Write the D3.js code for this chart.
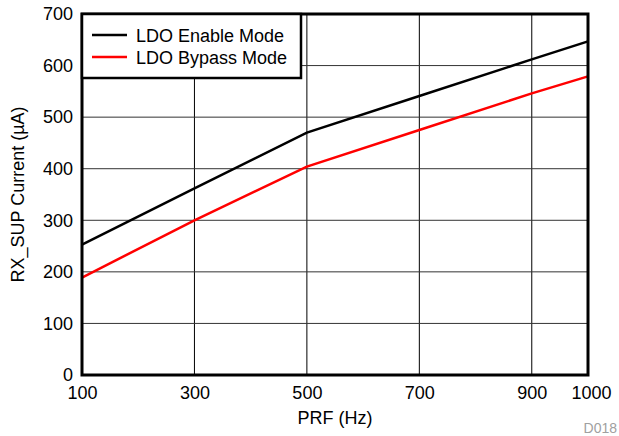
<!DOCTYPE html>
<html>
<head>
<meta charset="utf-8">
<script src="https://cdn.jsdelivr.net/npm/d3@7"></script>
<style>
  body { margin: 0; background: #fff; }
  text { font-family: "Liberation Sans", Arial, sans-serif; }
</style>
</head>
<body>
<div id="chart"></div>
<script>
const prf = [100, 300, 500, 700, 900, 1000];
const enableMode = [253, 362, 470, 541, 612, 647];
const bypassMode = [189, 300, 404, 475, 546, 579];
const xTicks = [100, 300, 500, 700, 900, 1000];
const yTicks = [0, 100, 200, 300, 400, 500, 600, 700];
const seriesNames = ["LDO Enable Mode", "LDO Bypass Mode"];
const seriesColors = ["#000000", "#ff0000"];

const width = 619;
const height = 436;
const margin = { left: 82, right: 31, top: 14, bottom: 61 };
const innerW = width - margin.left - margin.right;
const innerH = height - margin.top - margin.bottom;
const fontSize = 18;

const svg = d3.select("#chart").append("svg")
  .attr("width", width)
  .attr("height", height);

const x = d3.scaleLinear().domain([100, 1000]).range([0, innerW]);
const y = d3.scaleLinear().domain([0, 700]).range([innerH, 0]);

const g = svg.append("g")
  .attr("transform", "translate(" + margin.left + "," + margin.top + ")");

// grid
g.append("g")
  .selectAll("line")
  .data(xTicks.slice(1, -1))
  .enter().append("line")
  .attr("x1", d => x(d)).attr("x2", d => x(d))
  .attr("y1", 0).attr("y2", innerH)
  .attr("stroke", "#000").attr("stroke-width", 1);

g.append("g")
  .selectAll("line")
  .data(yTicks.slice(1, -1))
  .enter().append("line")
  .attr("x1", 0).attr("x2", innerW)
  .attr("y1", d => y(d)).attr("y2", d => y(d))
  .attr("stroke", "#333").attr("stroke-width", 1);

// axes (labels only)
const xAxis = d3.axisBottom(x).tickValues(xTicks).tickFormat(d3.format("d"))
  .tickSize(0).tickPadding(11);
const yAxis = d3.axisLeft(y).tickValues(yTicks).tickFormat(d3.format("d"))
  .tickSize(0).tickPadding(9);

g.append("g")
  .attr("transform", "translate(0," + innerH + ")")
  .call(xAxis)
  .call(a => a.select(".domain").remove())
  .selectAll("text")
  .attr("font-size", fontSize).attr("fill", "#000")
  .attr("dx", d => d === 1000 ? 3 : 0)
  .style("font-family", "Liberation Sans, Arial, sans-serif");

g.append("g")
  .call(yAxis)
  .call(a => a.select(".domain").remove())
  .selectAll("text")
  .attr("font-size", fontSize).attr("fill", "#000")
  .style("font-family", "Liberation Sans, Arial, sans-serif");

// lines
const series = [enableMode, bypassMode];
const line = d3.line()
  .x((d, i) => x(prf[i]))
  .y(d => y(d));

series.forEach((s, k) => {
  g.append("path")
    .datum(s)
    .attr("fill", "none")
    .attr("stroke", seriesColors[k])
    .attr("stroke-width", 2.5)
    .attr("d", line);
});

// border
g.append("rect")
  .attr("x", 0).attr("y", 0)
  .attr("width", innerW).attr("height", innerH)
  .attr("fill", "none")
  .attr("stroke", "#000")
  .attr("stroke-width", 3);

// legend
const legend = g.append("g");
legend.append("rect")
  .attr("x", 0).attr("y", 0)
  .attr("width", 219).attr("height", 64)
  .attr("fill", "#fff")
  .attr("stroke", "#000")
  .attr("stroke-width", 2.5);

seriesNames.forEach((name, k) => {
  const ly = 21 + k * 22;
  legend.append("line")
    .attr("x1", 10).attr("x2", 45)
    .attr("y1", ly).attr("y2", ly)
    .attr("stroke", seriesColors[k])
    .attr("stroke-width", 2.5);
  legend.append("text")
    .attr("x", 54).attr("y", ly + 6.5)
    .attr("font-size", fontSize)
    .text(name);
});

// axis titles
svg.append("text")
  .attr("x", margin.left + innerW / 2)
  .attr("y", 424)
  .attr("text-anchor", "middle")
  .attr("font-size", fontSize)
  .text("PRF (Hz)");

svg.append("text")
  .attr("transform", "translate(24," + (margin.top + innerH / 2) + ") rotate(-90)")
  .attr("text-anchor", "middle")
  .attr("font-size", fontSize)
  .text("RX_SUP Current (µA)");

svg.append("text")
  .attr("x", 617)
  .attr("y", 433)
  .attr("text-anchor", "end")
  .attr("font-size", 14)
  .attr("fill", "#a0a0a0")
  .text("D018");
</script>
</body>
</html>
